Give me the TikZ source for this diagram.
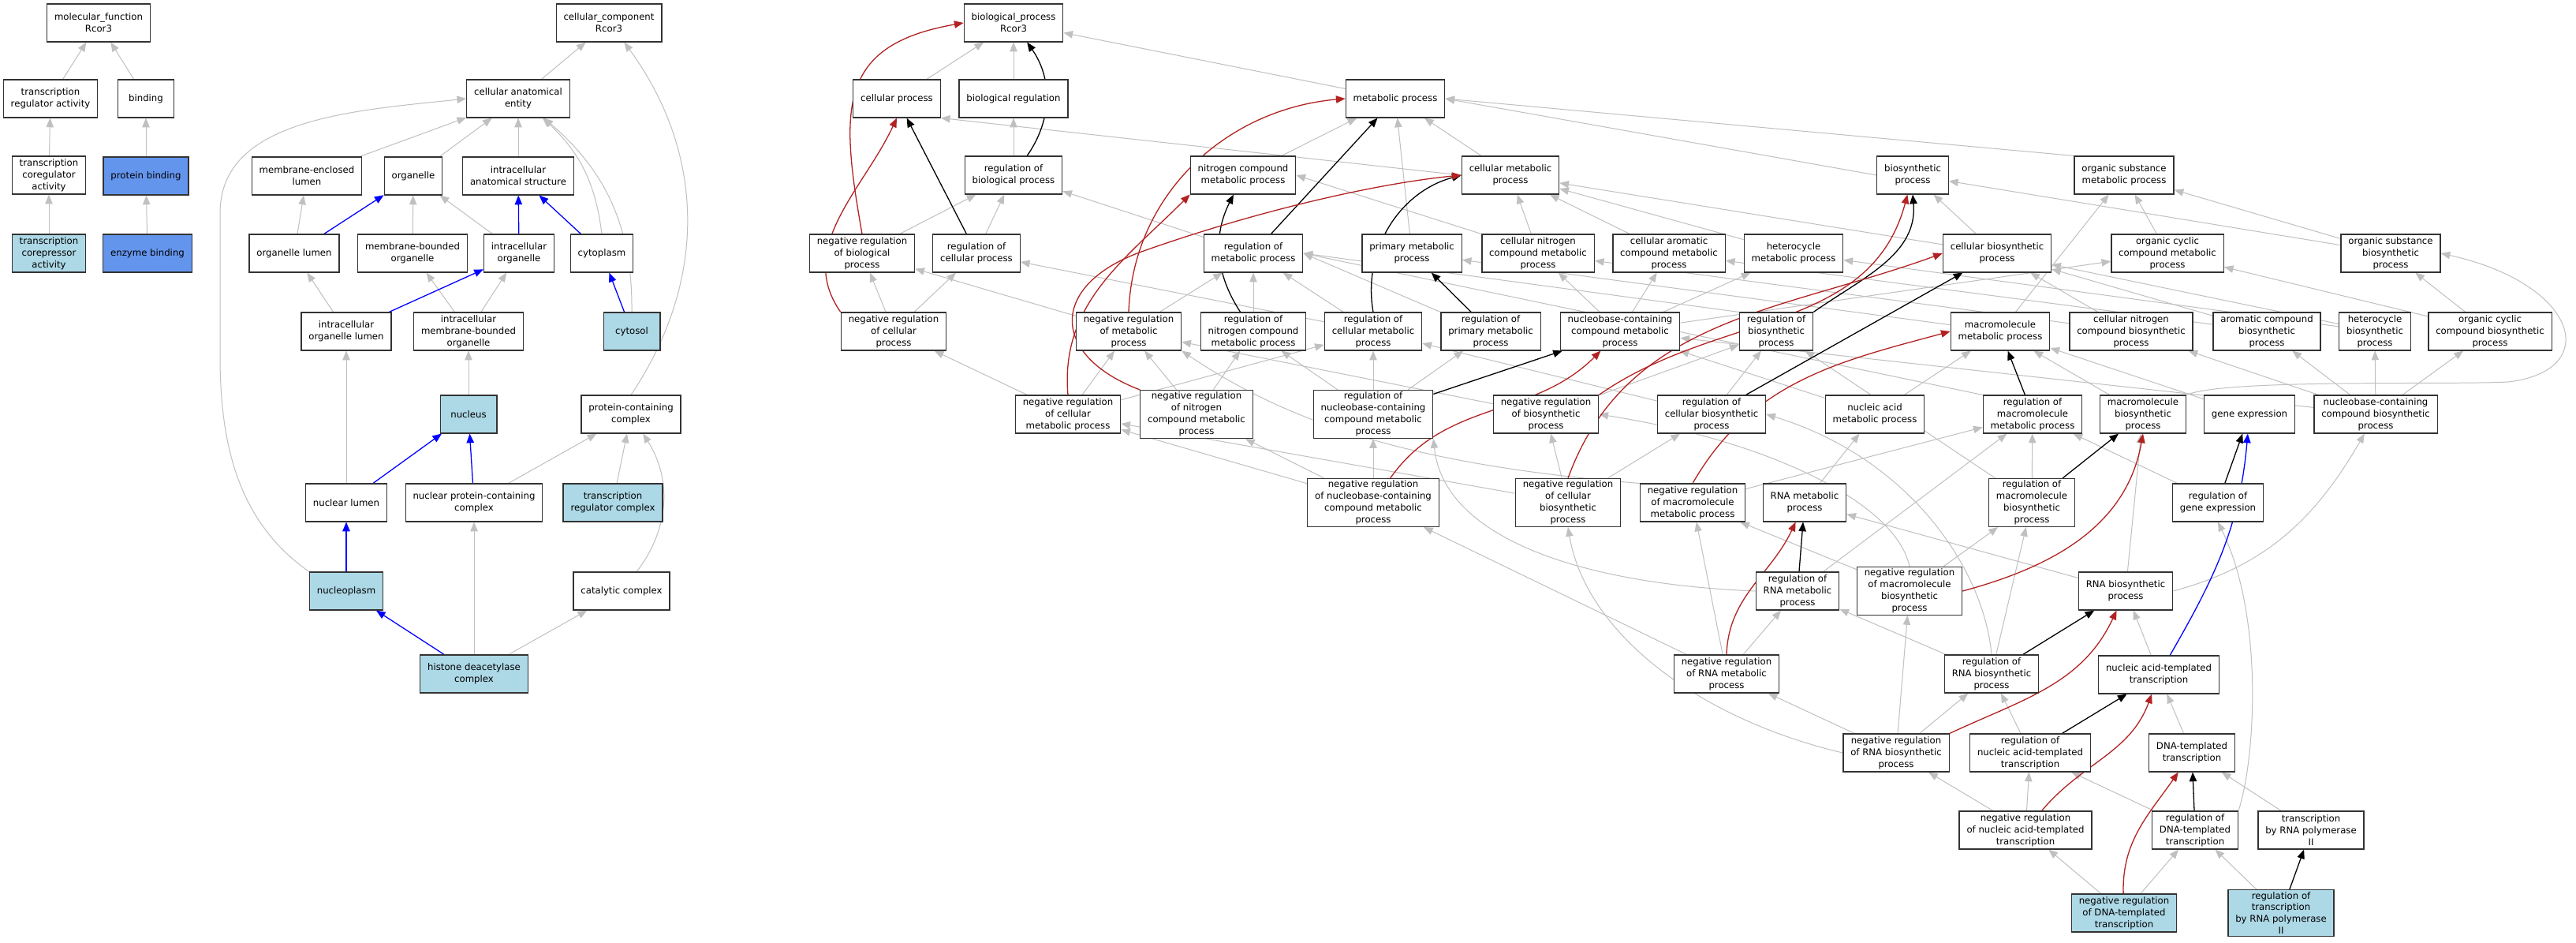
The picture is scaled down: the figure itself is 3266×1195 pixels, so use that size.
\documentclass[tikz,border=0pt]{standalone}
\usepackage{fontspec}
\setmainfont{DejaVu Sans}
\usepackage{tikz}
\usetikzlibrary{arrows.meta,backgrounds}
\definecolor{edgegray}{HTML}{C0C0C0}
\definecolor{negred}{HTML}{B22222}
\definecolor{termblue}{HTML}{ADD8E6}
\definecolor{genblue}{HTML}{6495ED}
\begin{document}
\begin{tikzpicture}[x=0.3mm,y=-0.3mm]
\tikzstyle{term}=[draw=black!80, line width=1.1pt, fill=white, align=center,
  font=\fontsize{10}{12.75}\selectfont, inner xsep=8pt, inner ysep=2pt,
  minimum width=61.2pt, minimum height=40.8pt]
\tikzstyle{hit}=[term, fill=termblue]
\tikzstyle{gen}=[term, fill=genblue]
\tikzstyle{isa}=[draw=edgegray, line width=0.85pt, -{Triangle[length=10pt,width=8pt]}]
\tikzstyle{reg}=[isa, draw=black, line width=1.1pt]
\tikzstyle{nreg}=[isa, draw=negred, line width=1.1pt]
\tikzstyle{partof}=[isa, draw=blue, line width=1.1pt]
\useasboundingbox (0,0) rectangle (3266,1195);
% molecular function
\node[term] (mf) at (125,29) {molecular\_function\\Rcor3};
\node[term] (trra) at (64,125) {transcription\\regulator activity};
\node[term] (bind) at (185,125) {binding};
\node[term] (trco) at (62,222) {transcription\\coregulator\\activity};
\node[gen] (prbi) at (185,223) {protein binding};
\node[hit] (trcr) at (62,321) {transcription\\corepressor\\activity};
\node[gen] (enbi) at (187,321) {enzyme binding};
% cellular component
\node[term] (cc) at (772,29) {cellular\_component\\Rcor3};
\node[term] (cae) at (657,125) {cellular anatomical\\entity};
\node[term] (mel) at (389,223) {membrane-enclosed\\lumen};
\node[term] (org) at (524,223) {organelle};
\node[term] (ias) at (657,223) {intracellular\\anatomical structure};
\node[term] (orl) at (373,321) {organelle lumen};
\node[term] (mbo) at (523,321) {membrane-bounded\\organelle};
\node[term] (io) at (658,321) {intracellular\\organelle};
\node[term] (cyt) at (763,321) {cytoplasm};
\node[term] (iol) at (439,420) {intracellular\\organelle lumen};
\node[term] (imbo) at (594,420) {intracellular\\membrane-bounded\\organelle};
\node[hit] (cyso) at (801,420) {cytosol};
\node[hit] (nuc) at (594,525) {nucleus};
\node[term] (pcc) at (800,525) {protein-containing\\complex};
\node[term] (nlu) at (439,637) {nuclear lumen};
\node[term] (npcc) at (601,637) {nuclear protein-containing\\complex};
\node[hit] (trc) at (777,637) {transcription\\regulator complex};
\node[hit] (nop) at (439,749) {nucleoplasm};
\node[term] (catc) at (788,749) {catalytic complex};
\node[hit] (hdac) at (601,854) {histone deacetylase\\complex};
% biological process
\node[term] (bp) at (1285,29) {biological\_process\\Rcor3};
\node[term] (cp) at (1137,125) {cellular process};
\node[term] (breg) at (1285,125) {biological regulation};
\node[term] (mp) at (1769,125) {metabolic process};
\node[term] (rbp) at (1285,222) {regulation of\\biological process};
\node[term] (ncmp) at (1576,222) {nitrogen compound\\metabolic process};
\node[term] (cmp) at (1915,222) {cellular metabolic\\process};
\node[term] (bsp) at (2425,222) {biosynthetic\\process};
\node[term] (osmp) at (2693,222) {organic substance\\metabolic process};
\node[term] (nrbp) at (1093,321) {negative regulation\\of biological\\process};
\node[term] (rcp) at (1238,321) {regulation of\\cellular process};
\node[term] (rmp) at (1589,321) {regulation of\\metabolic process};
\node[term] (pmp) at (1790,321) {primary metabolic\\process};
\node[term] (cnmp) at (1950,321) {cellular nitrogen\\compound metabolic\\process};
\node[term] (camp) at (2116,321) {cellular aromatic\\compound metabolic\\process};
\node[term] (hmp) at (2274,321) {heterocycle\\metabolic process};
\node[term] (cbp) at (2532,321) {cellular biosynthetic\\process};
\node[term] (occmp) at (2748,321) {organic cyclic\\compound metabolic\\process};
\node[term] (osbp) at (3031,321) {organic substance\\biosynthetic\\process};
\node[term] (nrcp) at (1133,420) {negative regulation\\of cellular\\process};
\node[term] (nrmp) at (1431,420) {negative regulation\\of metabolic\\process};
\node[term] (rncmp) at (1589,420) {regulation of\\nitrogen compound\\metabolic process};
\node[term] (rcmp) at (1741,420) {regulation of\\cellular metabolic\\process};
\node[term] (rpmp) at (1890,420) {regulation of\\primary metabolic\\process};
\node[term] (nbmp) at (2054,420) {nucleobase-containing\\compound metabolic\\process};
\node[term] (rbsp) at (2252,420) {regulation of\\biosynthetic\\process};
\node[term] (mmp) at (2536,420) {macromolecule\\metabolic process};
\node[term] (cnbp) at (2702,420) {cellular nitrogen\\compound biosynthetic\\process};
\node[term] (acbp) at (2874,420) {aromatic compound\\biosynthetic\\process};
\node[term] (hbp) at (3011,420) {heterocycle\\biosynthetic\\process};
\node[term] (occbp) at (3157,420) {organic cyclic\\compound biosynthetic\\process};
\node[term] (nrcmp) at (1354,525) {negative regulation\\of cellular\\metabolic process};
\node[term] (nrncmp) at (1517,525) {negative regulation\\of nitrogen\\compound metabolic\\process};
\node[term] (rnbmp) at (1741,525) {regulation of\\nucleobase-containing\\compound metabolic\\process};
\node[term] (nrbsp) at (1960,525) {negative regulation\\of biosynthetic\\process};
\node[term] (rcbp) at (2170,525) {regulation of\\cellular biosynthetic\\process};
\node[term] (namp) at (2377,525) {nucleic acid\\metabolic process};
\node[term] (rmmp) at (2577,525) {regulation of\\macromolecule\\metabolic process};
\node[term] (mbp) at (2717,525) {macromolecule\\biosynthetic\\process};
\node[term] (gex) at (2852,525) {gene expression};
\node[term] (nbbp) at (3012,525) {nucleobase-containing\\compound biosynthetic\\process};
\node[term] (nrnbmp) at (1741,637) {negative regulation\\of nucleobase-containing\\compound metabolic\\process};
\node[term] (nrcbp) at (1988,637) {negative regulation\\of cellular\\biosynthetic\\process};
\node[term] (nrmmp) at (2146,637) {negative regulation\\of macromolecule\\metabolic process};
\node[term] (rnamp) at (2288,637) {RNA metabolic\\process};
\node[term] (rmbp) at (2576,637) {regulation of\\macromolecule\\biosynthetic\\process};
\node[term] (rgex) at (2812,637) {regulation of\\gene expression};
\node[term] (rrnamp) at (2279,749) {regulation of\\RNA metabolic\\process};
\node[term] (nrmbp) at (2421,749) {negative regulation\\of macromolecule\\biosynthetic\\process};
\node[term] (rnabp) at (2695,749) {RNA biosynthetic\\process};
\node[term] (nrrnamp) at (2189,854) {negative regulation\\of RNA metabolic\\process};
\node[term] (rrnabp) at (2525,854) {regulation of\\RNA biosynthetic\\process};
\node[term] (natt) at (2737,855) {nucleic acid-templated\\transcription};
\node[term] (nrrnabp) at (2404,954) {negative regulation\\of RNA biosynthetic\\process};
\node[term] (rnatt) at (2574,954) {regulation of\\nucleic acid-templated\\transcription};
\node[term] (dtt) at (2779,954) {DNA-templated\\transcription};
\node[term] (nrnatt) at (2568,1052) {negative regulation\\of nucleic acid-templated\\transcription};
\node[term] (rdtt) at (2783,1052) {regulation of\\DNA-templated\\transcription};
\node[term] (trp) at (2930,1052) {transcription\\by RNA polymerase\\II};
\node[hit] (nrdtt) at (2693,1157) {negative regulation\\of DNA-templated\\transcription};
\node[hit] (rtrp) at (2892,1157) {regulation of\\transcription\\by RNA polymerase\\II};
\begin{pgfonlayer}{background}
\fill[white] (0,0) rectangle (3266,1195);
\foreach \s/\t in {trra/mf, bind/mf, trco/trra, prbi/bind, trcr/trco, enbi/prbi,
  cae/cc, mel/cae, org/cae, ias/cae, orl/mel, mbo/org, io/org, iol/orl, imbo/mbo,
  imbo/io, nuc/imbo, nlu/iol, npcc/pcc, trc/pcc, hdac/npcc, hdac/catc,
  cp/bp, breg/bp, mp/bp, rbp/breg, ncmp/mp, cmp/mp, pmp/mp, nrbp/rbp, rcp/rbp,
  rmp/rbp, nrcp/nrbp, nrcp/rcp, nrmp/nrbp, nrmp/rmp, rncmp/rmp, rcmp/rmp, rcmp/rcp,
  cnmp/cmp, camp/cmp, hmp/cmp, cbp/cmp, cbp/bsp, osbp/bsp, osbp/osmp, occmp/osmp,
  mmp/osmp, mmp/pmp, nbmp/cnmp, nbmp/camp, nbmp/hmp, nbmp/occmp, cnbp/cnmp, cnbp/cbp,
  acbp/camp, acbp/cbp, hbp/hmp, hbp/cbp, occbp/occmp, occbp/osbp, nrcmp/nrcp,
  nrcmp/nrmp, nrcmp/rcmp, nrncmp/nrmp, nrncmp/rncmp, rnbmp/rcmp, rnbmp/rpmp,
  rnbmp/rncmp, nrbsp/rbsp, nrbsp/nrmp, rcbp/rbsp, rcbp/rcmp, namp/nbmp, namp/mmp,
  mbp/mmp, gex/mmp, nbbp/nbmp, nbbp/cnbp, nbbp/acbp, nbbp/hbp, nbbp/occbp,
  nrnbmp/rnbmp, nrnbmp/nrcmp, nrnbmp/nrncmp, nrcbp/nrbsp, nrcbp/rcbp, nrcbp/nrcmp,
  nrmmp/rmmp, rnamp/namp, rmbp/rbsp, rmbp/rmmp, rgex/rmmp, rrnamp/rmmp, nrmbp/rmbp,
  nrmbp/nrmmp, rnabp/rnamp, rnabp/mbp, nrrnamp/rrnamp, nrrnamp/nrnbmp, nrrnamp/nrmmp,
  rrnabp/rrnamp, rrnabp/rmbp, natt/rnabp, nrrnabp/rrnabp, nrrnabp/nrmbp,
  nrrnabp/nrrnamp, rnatt/rrnabp, dtt/natt, nrnatt/nrrnabp, nrnatt/rnatt, rdtt/rnatt,
  trp/dtt, nrdtt/nrnatt, nrdtt/rdtt, rtrp/rdtt}
  \draw[isa] (\s) -- (\t);
\draw[isa] (cmp.west) -- (cp.south east);
\draw[isa] (bsp.west) -- (mp.east);
\draw[isa] (osmp.north west) -- (mp.east);
\draw[isa] (cnmp.north west) -- (ncmp.east);
\draw[isa] (rpmp.north west) -- (rmp.east);
\draw[isa] (rbsp.north west) -- (rmp.east);
\draw[isa] (rmmp.north west) -- (rmp.east);
\draw[isa] (pcc.north) to[bend right=35] (cc);
\draw[isa] (cyt.north) to[bend right=20] (cae);
\draw[isa] (cyso.north) to[bend right=25] (cae);
\draw[isa] (catc) to[bend right=35] (pcc);
\draw[isa] (nop.north west) .. controls (300,660) and (279,560) .. (279,450) -- (279,270)
  .. controls (279,150) and (450,140) .. (cae.west);
\draw[isa] (mbp.north east) .. controls (2820,480) and (3100,488) .. (3180,484)
  .. controls (3300,470) and (3270,360) .. (osbp.east);
\draw[isa] (rrnamp.west) .. controls (2000,740) and (1830,680) .. (rnbmp.south east);
\draw[isa] (nrrnabp.west) .. controls (2150,910) and (2010,800) .. (nrcbp.south);
\draw[isa] (rrnabp.north) .. controls (2515,720) and (2420,580) .. (rcbp.east);
\draw[isa] (nrmbp.north) .. controls (2405,640) and (2250,560) .. (nrbsp.east);
\draw[isa] (rnabp.east) to[out=15,in=-120] (nbbp);
\draw[isa] (rdtt.north east) .. controls (2860,960) and (2870,780) .. (rgex.south);
\draw[isa] (nrmmp.north west) .. controls (1800,590) and (1640,540) .. (nrmp.south east);
\foreach \s/\t in {rcp/cp, rmp/mp, rpmp/pmp, rnbmp/nbmp, rcbp/cbp, rmmp/mmp, rmbp/mbp,
  rgex/gex, rrnamp/rnamp, rrnabp/rnabp, rnatt/natt, rdtt/dtt, rtrp/trp}
  \draw[reg] (\s) -- (\t);
\draw[reg] (rbp) to[bend right=35] (bp);
\draw[reg] (rncmp) to[bend left=30] (ncmp);
\draw[reg] (rcmp.north) to[out=100,in=195] (cmp.west);
\draw[reg] (rbsp.north east) to[out=35,in=-85] (bsp.south);
\draw[nreg] (nrbp.north) to[out=100,in=190,looseness=1.4] (bp.west);
\draw[nreg] (nrcp.north west) to[out=125,in=-115] (cp.south);
\draw[nreg] (nrmp.north) to[out=88,in=185] (mp.west);
\draw[nreg] (nrcmp.north) to[out=95,in=-135] (ncmp.south west);
\draw[nreg] (nrncmp.north west) .. controls (1330,450) and (1330,360) .. (1450,318)
  .. controls (1600,265) and (1750,232) .. (cmp.west);
\draw[nreg] (nrnbmp) to[out=55,in=-135] (nbmp);
\draw[nreg] (nrbsp.north east) to[out=35,in=-105] (bsp);
\draw[nreg] (nrcbp.north) to[out=70,in=200] (cbp.west);
\draw[nreg] (nrmmp.north) to[out=60,in=195] (mmp.west);
\draw[nreg] (nrmbp.east) to[out=15,in=-100] (mbp.south);
\draw[nreg] (nrrnamp.north) to[out=88,in=-115] (rnamp);
\draw[nreg] (nrrnabp.north east) to[out=25,in=-115] (rnabp);
\draw[nreg] (nrnatt) to[out=50,in=-110] (natt);
\draw[nreg] (nrdtt) to[out=92,in=-125] (dtt);
\foreach \s/\t in {orl/org, io/ias, cyt/ias, iol/io, cyso/cyt, nlu/nuc, npcc/nuc,
  nop/nlu, hdac/nop}
  \draw[partof] (\s) -- (\t);
\draw[partof] (natt) to[out=60,in=-95] (gex);
\end{pgfonlayer}
\end{tikzpicture}
\end{document}
